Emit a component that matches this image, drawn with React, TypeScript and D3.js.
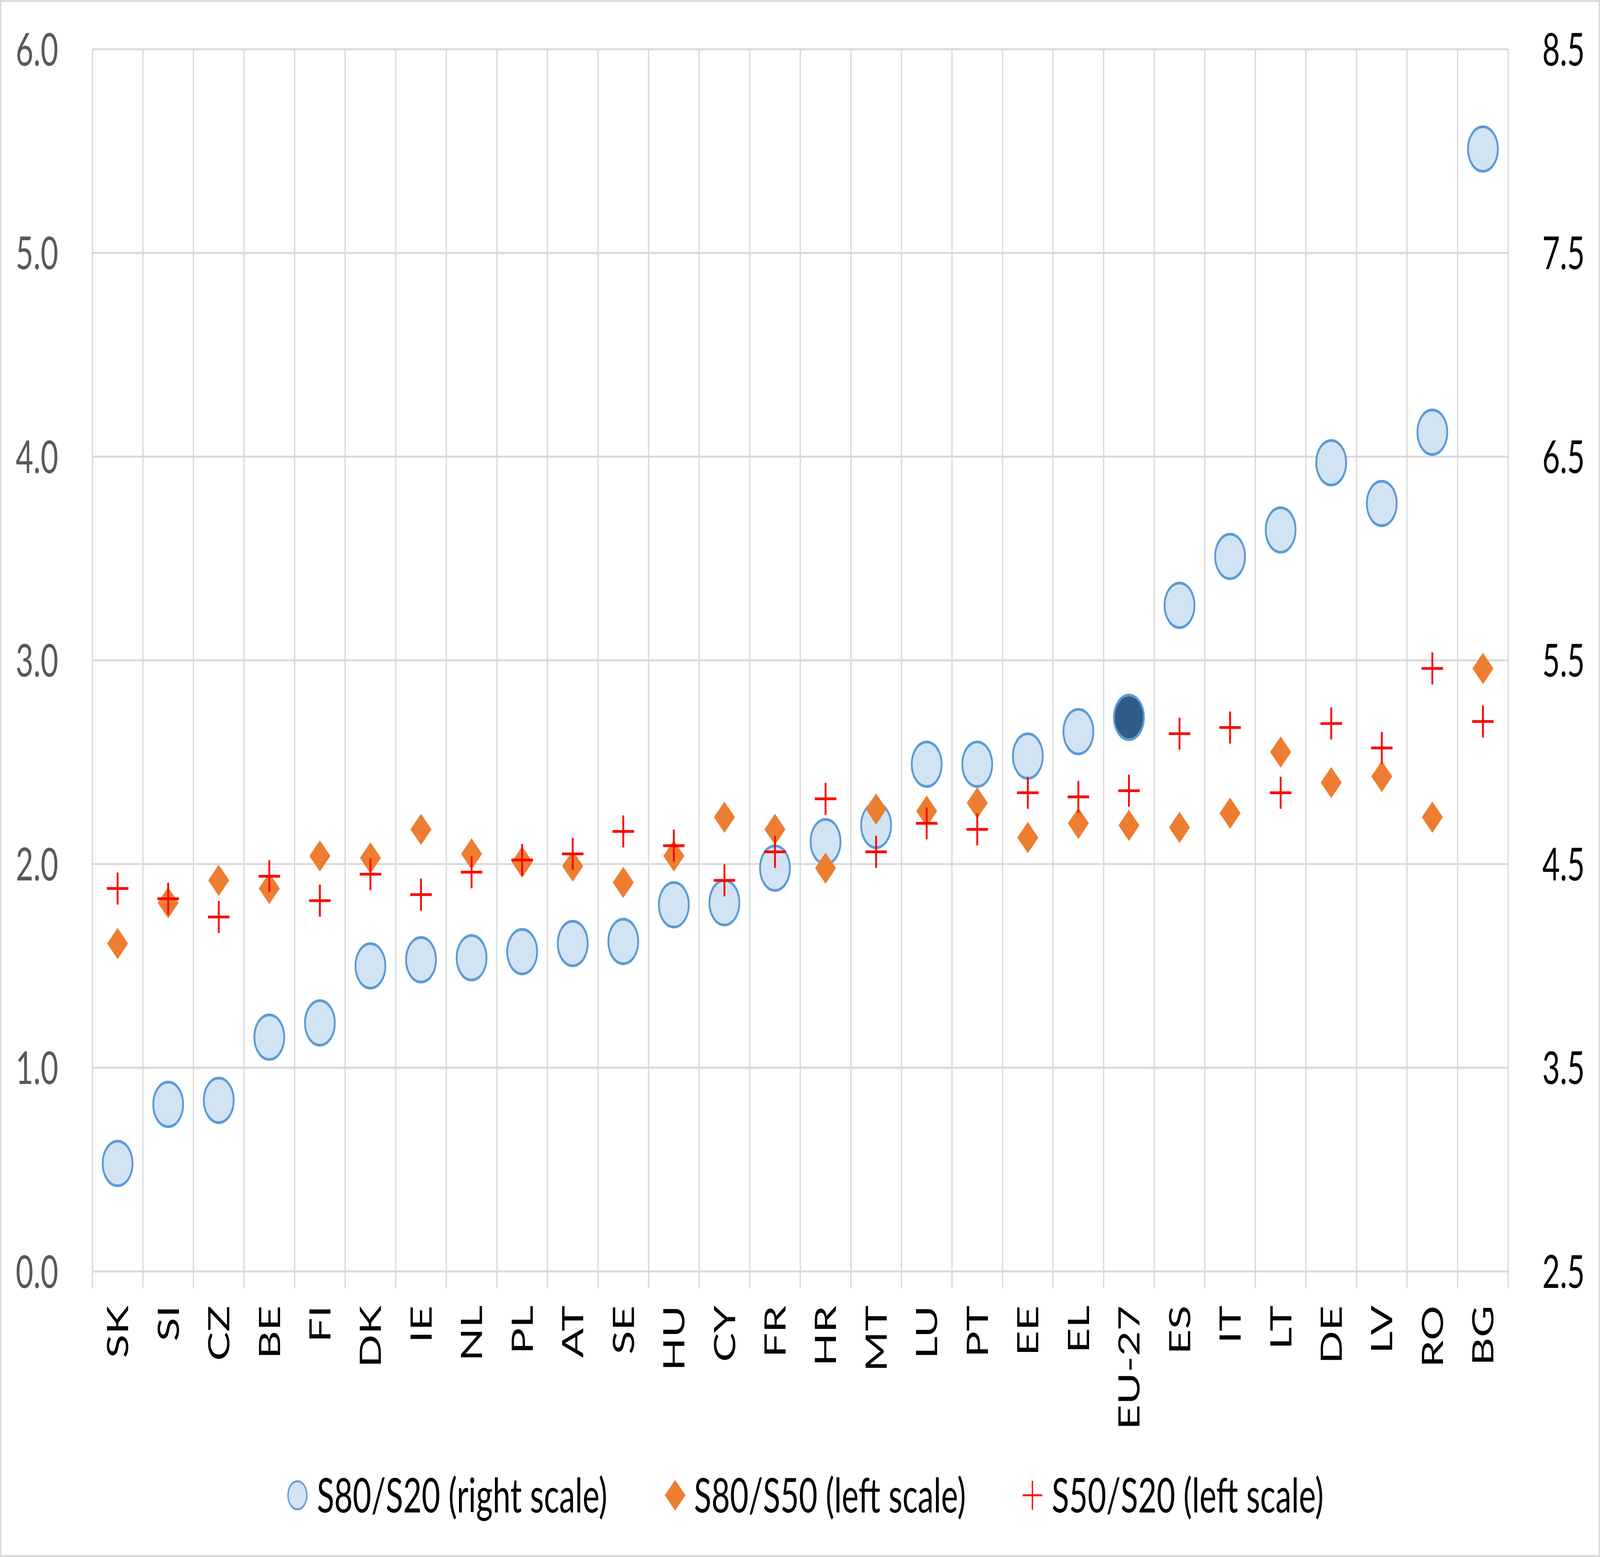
import React from 'react';
import * as d3 from 'd3';

// Countries, ordered as in the source figure
const categories = [
  'SK', 'SI', 'CZ', 'BE', 'FI', 'DK', 'IE', 'NL', 'PL', 'AT', 'SE', 'HU', 'CY', 'FR',
  'HR', 'MT', 'LU', 'PT', 'EE', 'EL', 'EU-27', 'ES', 'IT', 'LT', 'DE', 'LV', 'RO', 'BG',
];

// S80/S20 (right scale)
const s80s20 = [
  3.03, 3.32, 3.34, 3.65, 3.72, 4.0, 4.03, 4.04, 4.07, 4.11, 4.12, 4.3, 4.31, 4.48,
  4.61, 4.69, 4.99, 4.99, 5.03, 5.15, 5.22, 5.77, 6.01, 6.14, 6.47, 6.27, 6.62, 8.01,
];

// S80/S50 (left scale)
const s80s50 = [
  1.61, 1.81, 1.92, 1.88, 2.04, 2.03, 2.17, 2.05, 2.01, 1.99, 1.91, 2.04, 2.23, 2.17,
  1.98, 2.27, 2.26, 2.3, 2.13, 2.2, 2.19, 2.18, 2.25, 2.55, 2.4, 2.43, 2.23, 2.96,
];

// S50/S20 (left scale)
const s50s20 = [
  1.88, 1.83, 1.74, 1.94, 1.82, 1.95, 1.85, 1.96, 2.02, 2.05, 2.16, 2.09, 1.92, 2.06,
  2.32, 2.06, 2.2, 2.17, 2.35, 2.33, 2.36, 2.64, 2.67, 2.35, 2.69, 2.57, 2.96, 2.7,
];

const leftTicks = [0, 1, 2, 3, 4, 5, 6];
const rightTicks = [2.5, 3.5, 4.5, 5.5, 6.5, 7.5, 8.5];

const legendLabels = ['S80/S20 (right scale)', 'S80/S50 (left scale)', 'S50/S20 (left scale)'];
const highlight = 'EU-27';

// drawing is laid out in a 6100 x 3986 frame and stretched to fill the window
const W = 6100;
const H = 3986;
const margin = { top: 126, right: 350, bottom: 731, left: 352 };
const FONT = 'Lato, Calibri, Carlito, "Open Sans", sans-serif';

const GRID = '#d9d9d9';
const BLUE_LINE = '#5b9bd5';
const BLUE_FILL = '#d2e3f3';
const BLUE_DARK = '#2f5d87';
const ORANGE = '#ed7d31';
const RED = '#ff0000';

export default function App() {
  const x = d3
    .scaleBand<string>()
    .domain(categories)
    .range([margin.left, W - margin.right]);

  const yLeft = d3.scaleLinear().domain([0, 6]).range([H - margin.bottom, margin.top]);
  const yRight = d3.scaleLinear().domain([2.5, 8.5]).range([H - margin.bottom, margin.top]);

  const bottom = H - margin.bottom;
  const cx = (c: string) => (x(c) || 0) + x.bandwidth() / 2;
  const boundaries = d3.range(categories.length + 1).map(i => margin.left + i * x.step());

  // square rotated 45deg gives Excel's diamond marker
  const diamond = d3.symbol(d3.symbolSquare, 3200)();
  const legendDiamond = d3.symbol(d3.symbolSquare, 3100)();

  const plus = (px: number, py: number, h: number, sw: number, key?: string) => (
    <g key={key} stroke={RED} strokeWidth={sw}>
      <line x1={px - h} x2={px + h} y1={py} y2={py} />
      <line x1={px} x2={px} y1={py - h} y2={py + h} />
    </g>
  );

  const legendY = 3828;

  return (
    <svg
      viewBox={`0 0 ${W} ${H}`}
      preserveAspectRatio="none"
      style={{ position: 'absolute', left: 0, top: 0, width: '100vw', height: '100vh', display: 'block', background: '#fff' }}
      fontFamily={FONT}
    >
      <rect x={2.5} y={2.5} width={W - 5} height={H - 5} fill="#fff" stroke={GRID} strokeWidth={5} />

      {/* gridlines */}
      <g stroke={GRID} strokeWidth={5}>
        {leftTicks.map(t => (
          <line key={'h' + t} x1={margin.left} x2={W - margin.right} y1={yLeft(t)} y2={yLeft(t)} />
        ))}
        {boundaries.map((bx, i) => (
          <line key={'v' + i} x1={bx} x2={bx} y1={margin.top} y2={bottom + 43} />
        ))}
      </g>

      {/* left axis */}
      <g fill="#595959" fontSize={116} textAnchor="end">
        {leftTicks.map(t => (
          <text key={t} x={222} y={yLeft(t)} dy="0.36em">
            {d3.format('.1f')(t)}
          </text>
        ))}
      </g>

      {/* right axis */}
      <g fill="#000" fontSize={116} textAnchor="start">
        {rightTicks.map(t => (
          <text key={t} x={5880} y={yRight(t)} dy="0.36em">
            {d3.format('.1f')(t)}
          </text>
        ))}
      </g>

      {/* category labels */}
      <g fill="#000" fontSize={112} textAnchor="end">
        {categories.map(c => (
          <text key={c} transform={`translate(${cx(c)},3342) rotate(-90)`} dy="0.36em">
            {c}
          </text>
        ))}
      </g>

      {/* S80/S20 circles */}
      <g>
        {categories.map((c, i) => (
          <circle
            key={c}
            cx={cx(c)}
            cy={yRight(s80s20[i])}
            r={57}
            fill={c === highlight ? BLUE_DARK : BLUE_FILL}
            stroke={BLUE_LINE}
            strokeWidth={7}
          />
        ))}
      </g>

      {/* S80/S50 diamonds */}
      <g fill={ORANGE}>
        {categories.map((c, i) => (
          <path
            key={c}
            d={diamond || ''}
            transform={`translate(${cx(c)},${yLeft(s80s50[i])}) rotate(45)`}
          />
        ))}
      </g>

      {/* S50/S20 crosses */}
      <g>{categories.map((c, i) => plus(cx(c), yLeft(s50s20[i]), 41, 7, c))}</g>

      {/* legend */}
      <g fontSize={122} fill="#000">
        <circle cx={1134} cy={legendY} r={36} fill={BLUE_FILL} stroke={BLUE_LINE} strokeWidth={5} />
        <text x={1208} y={legendY} dy="0.36em">{legendLabels[0]}</text>

        <path d={legendDiamond || ''} fill={ORANGE} transform={`translate(2574,${legendY}) rotate(45)`} />
        <text x={2646} y={legendY} dy="0.36em">{legendLabels[1]}</text>

        {plus(3936, legendY, 37, 5)}
        <text x={4010} y={legendY} dy="0.36em">{legendLabels[2]}</text>
      </g>
    </svg>
  );
}
